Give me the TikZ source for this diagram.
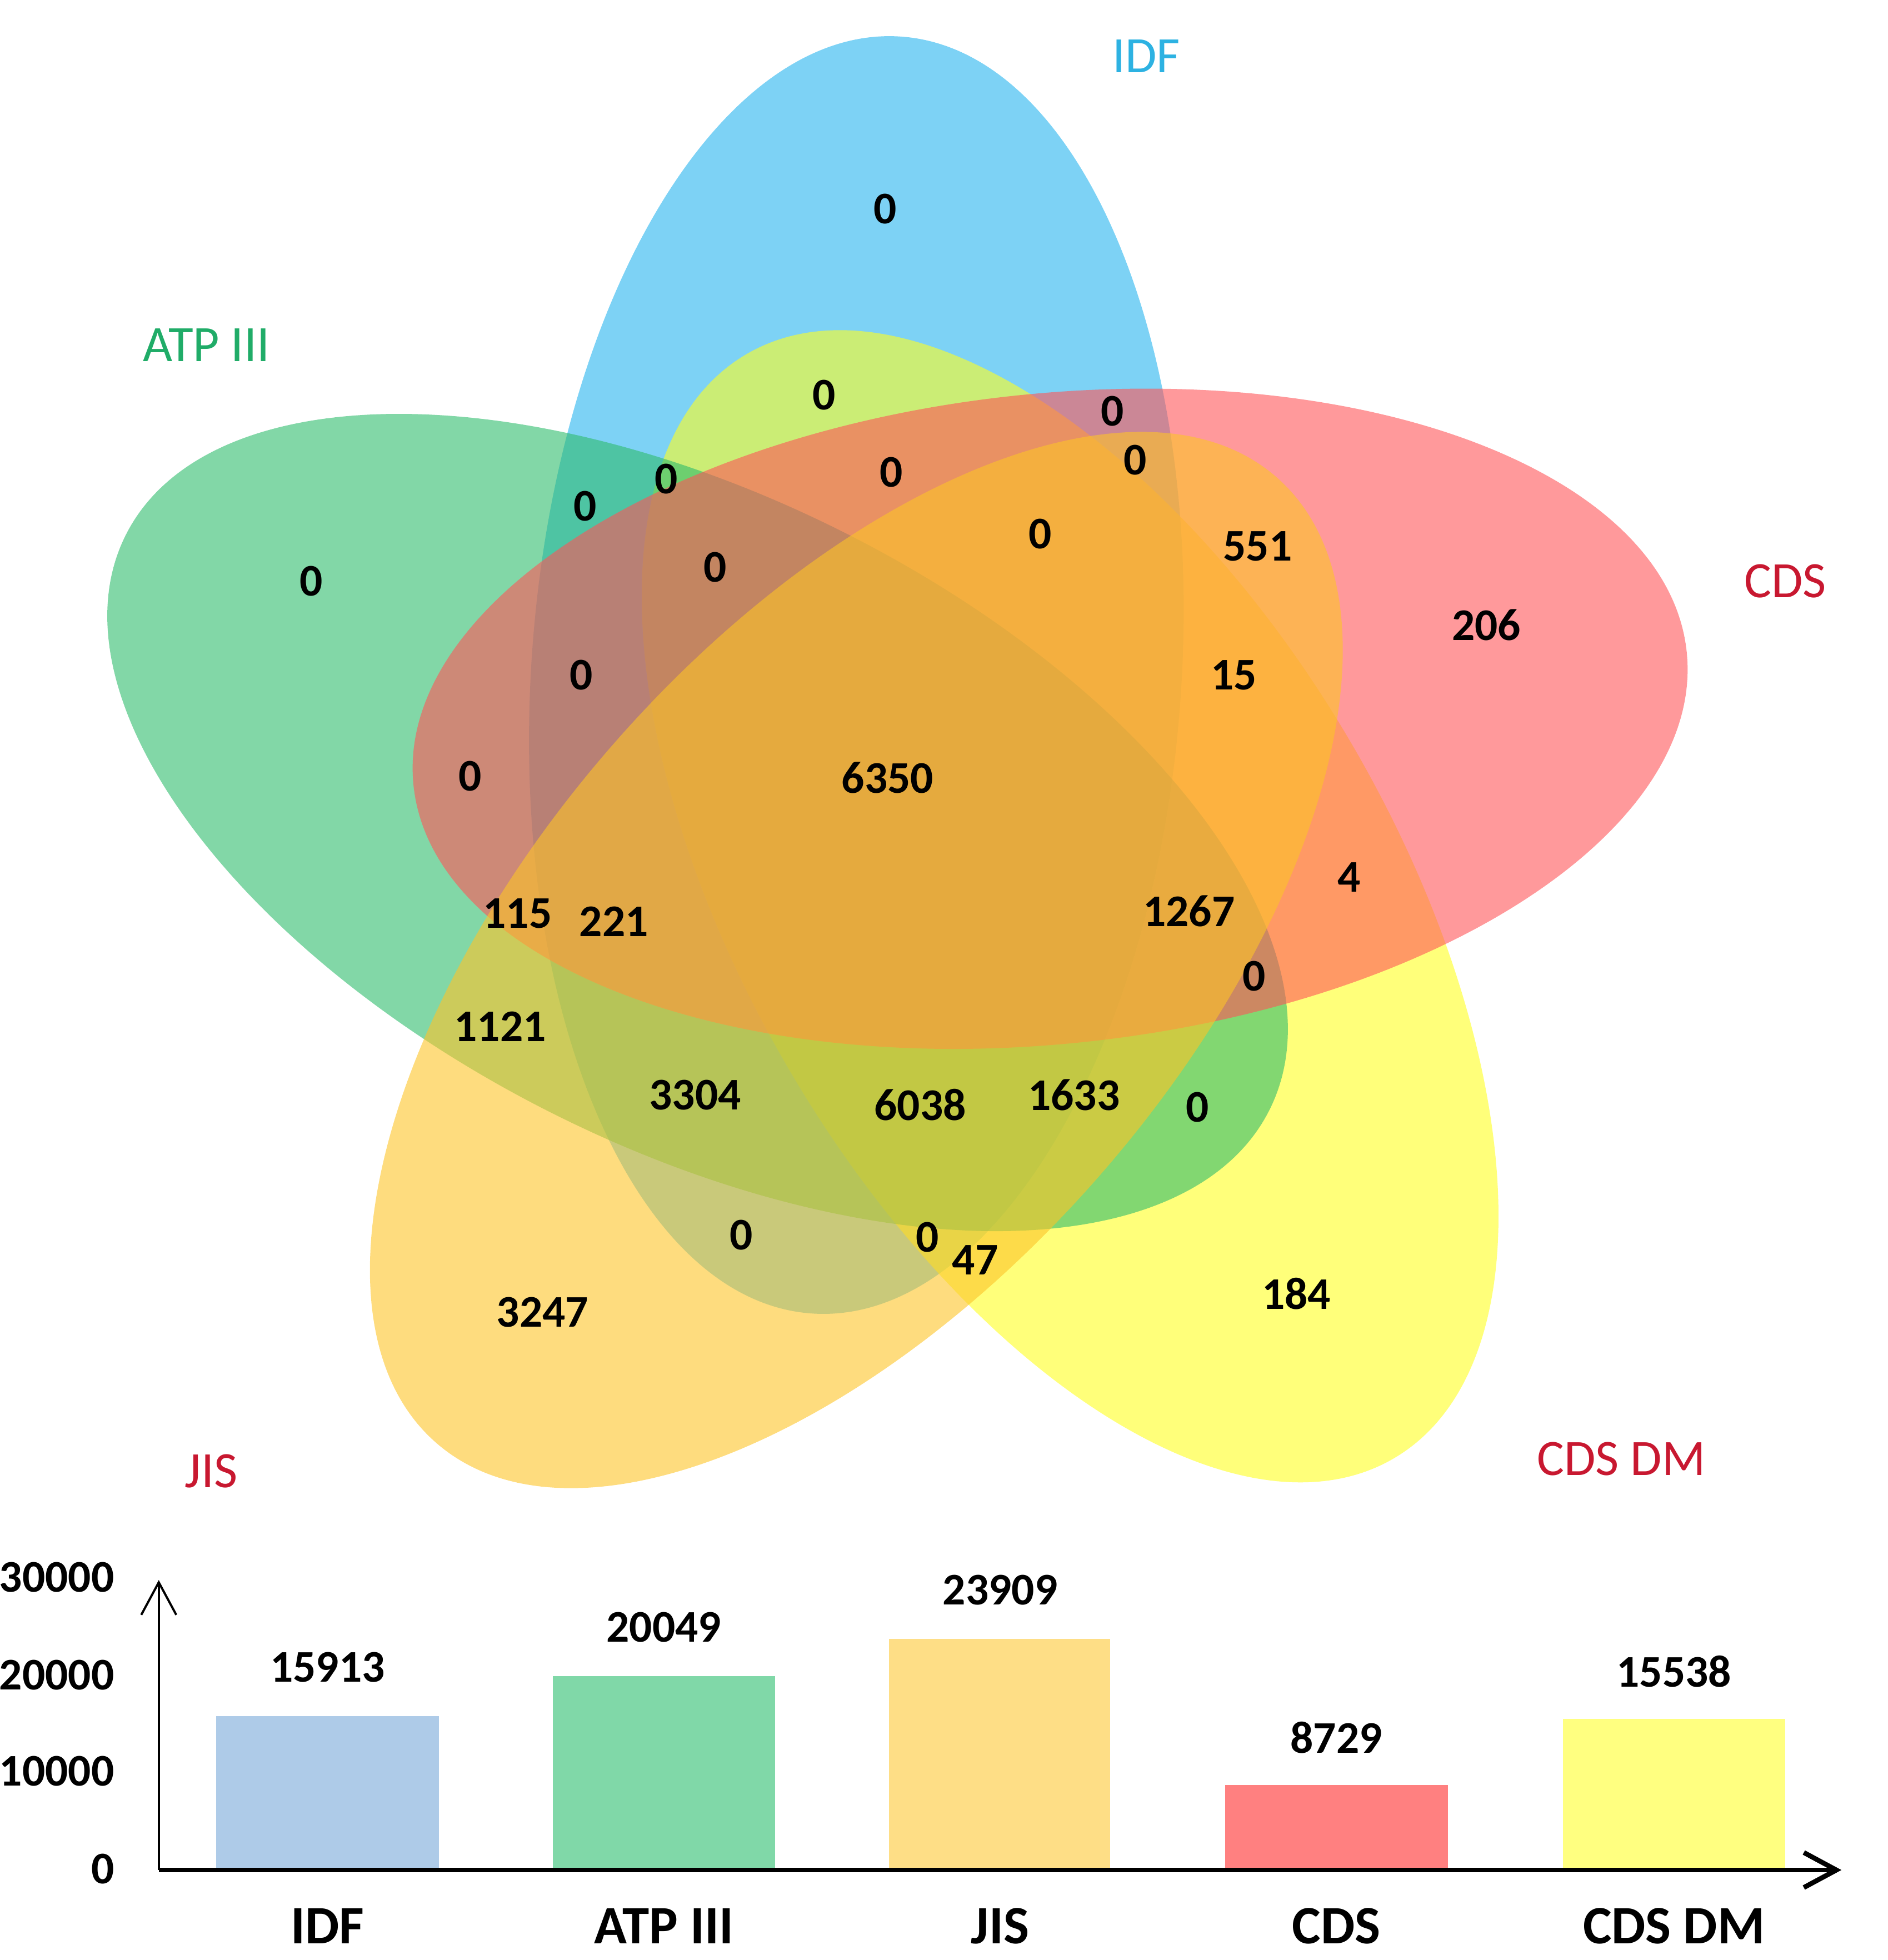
\documentclass[tikz,border=0pt]{standalone}
\usepackage{fontspec}
\setmainfont{Carlito}
\usepackage{xcolor}
\usetikzlibrary{arrows.meta}

\definecolor{idfblue}{RGB}{38,180,238}
\definecolor{atpgreen}{RGB}{47,188,108}
\definecolor{jisorange}{RGB}{253,196,40}
\definecolor{cdsred}{RGB}{255,85,88}
\definecolor{dmyellow}{RGB}{255,255,33}
\definecolor{idftext}{RGB}{45,178,226}
\definecolor{atptext}{RGB}{32,172,104}
\definecolor{redtext}{RGB}{200,24,48}
\definecolor{idfbar}{RGB}{174,203,232}
\definecolor{atpbar}{RGB}{128,216,168}
\definecolor{jisbar}{RGB}{254,222,134}
\definecolor{cdsbar}{RGB}{255,128,128}
\definecolor{dmbar}{RGB}{255,255,128}

\tikzset{
	num/.style={inner sep=0pt,font=\fontsize{10.3}{12}\selectfont\bfseries},
	setname/.style={inner sep=0pt,font=\fontsize{11.6}{14}\selectfont},
	catname/.style={inner sep=0pt,anchor=base,font=\fontsize{12.3}{14}\selectfont\bfseries},
	petal/.style={fill opacity=0.6},
	axisarrow/.style={-{Straight Barb[length=0.26cm,width=0.28cm]}}
}

\begin{document}
\begin{tikzpicture}[x=0.01cm,y=0.01cm]
	\useasboundingbox (0,0) rectangle (1510,-1568);
	% the five sets
	\fill [petal,fill=idfblue,rotate around={86:(685,-540)}] (685,-540) ellipse [x radius=512,y radius=260];
	\fill [petal,fill=dmyellow,rotate around={-59.6:(856,-725)}] (856,-725) ellipse [x radius=512,y radius=260];
	\fill [petal,fill=atpgreen,rotate around={-26.7:(558,-658)}] (558,-658) ellipse [x radius=512,y radius=260];
	\fill [petal,fill=cdsred,rotate around={6:(840,-575)}] (840,-575) ellipse [x radius=512,y radius=260];
	\fill [petal,fill=jisorange,rotate around={49:(685,-768)}] (685,-768) ellipse [x radius=512,y radius=260];
	% set names
	\node [setname,text=idftext] (lidf) at (917,-45){IDF};
	\node [setname,text=atptext] (latp) at (165,-276){ATP III};
	\node [setname,text=redtext] (lcds) at (1428,-465){CDS};
	\node [setname,text=redtext] (ldm) at (1297,-1167){CDS DM};
	\node [setname,text=redtext] (ljis) at (169,-1177){JIS};
	% region counts
	\node [num] (r1) at (708,-167){0};
	\node [num] (r2) at (249,-465){0};
	\node [num] (r3) at (1189,-500){206};
	\node [num] (r4) at (1037,-1035){184};
	\node [num] (r5) at (434,-1050){3247};
	\node [num] (r6) at (659,-316){0};
	\node [num] (r7) at (890,-329){0};
	\node [num] (r8) at (908,-368){0};
	\node [num] (r9) at (713,-378){0};
	\node [num] (r10) at (533,-383){0};
	\node [num] (r11) at (468,-405){0};
	\node [num] (r12) at (572,-454){0};
	\node [num] (r13) at (832,-427){0};
	\node [num] (r14) at (1006,-437){551};
	\node [num] (r15) at (987,-540){15};
	\node [num] (r16) at (465,-540){0};
	\node [num] (r17) at (376,-621){0};
	\node [num] (r18) at (710,-622){6350};
	\node [num] (r19) at (1079,-702){4};
	\node [num] (r20) at (414,-731){115};
	\node [num] (r21) at (491,-737){221};
	\node [num] (r22) at (951,-729){1267};
	\node [num] (r23) at (1003,-781){0};
	\node [num] (r24) at (400,-821){1121};
	\node [num] (r25) at (556,-876){3304};
	\node [num] (r26) at (736,-884){6038};
	\node [num] (r27) at (859,-876){1633};
	\node [num] (r28) at (958,-886){0};
	\node [num] (r29) at (593,-988){0};
	\node [num] (r30) at (742,-990){0};
	\node [num] (r31) at (780,-1008){47};
	% bar chart
	\coordinate (origin) at (127,-1496);
	\coordinate (ytop) at (127,-1264);
	\coordinate (xend) at (1473,-1496);
	\fill [idfbar] (173,-1494) rectangle (351,-1373);
	\fill [atpbar] (442,-1494) rectangle (620,-1341);
	\fill [jisbar] (711,-1494) rectangle (888,-1311);
	\fill [cdsbar] (980,-1494) rectangle (1158,-1428);
	\fill [dmbar] (1250,-1494) rectangle (1428,-1375);
	\draw [axisarrow,line width=0.5pt] (origin) -- (ytop);
	\draw [axisarrow,line width=1.1pt] (origin) -- (xend);
	\node [num,anchor=east] (t3) at (92,-1262){30000};
	\node [num,anchor=east] (t2) at (92,-1340){20000};
	\node [num,anchor=east] (t1) at (92,-1417){10000};
	\node [num,anchor=east] (t0) at (92,-1495){0};
	\node [num] (vidf) at (262,-1334){15913};
	\node [num] (vatp) at (531,-1302){20049};
	\node [num] (vjis) at (800,-1272){23909};
	\node [num] (vcds) at (1069,-1390){8729};
	\node [num] (vdm) at (1339,-1337){15538};
	\node [catname] (cidf) at (262,-1555){IDF};
	\node [catname] (catp) at (531,-1555){ATP III};
	\node [catname] (cjis) at (800,-1555){JIS};
	\node [catname] (ccds) at (1069,-1555){CDS};
	\node [catname] (cdm) at (1339,-1555){CDS DM};
\end{tikzpicture}
\end{document}
